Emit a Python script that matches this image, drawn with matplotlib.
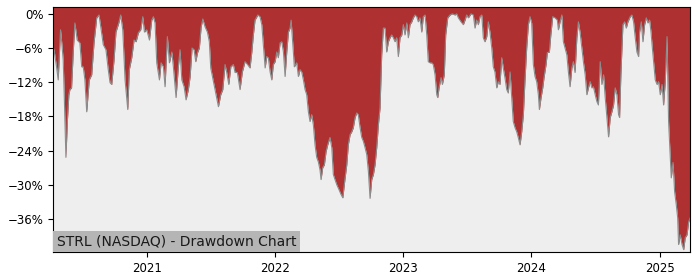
import matplotlib
matplotlib.use("Agg")
import matplotlib.pyplot as plt
import matplotlib.ticker as mticker
import matplotlib.dates as mdates
from matplotlib.transforms import ScaledTranslation
import numpy as np
import pandas as pd

# drawdown of STRL
# time as decimal years, drawdown in percent
t_year = [
    2020.266, 2020.275, 2020.292, 2020.305, 2020.323, 2020.334, 2020.344, 2020.353, 2020.365, 2020.377,
    2020.388, 2020.396, 2020.409, 2020.423, 2020.435, 2020.453, 2020.474, 2020.488, 2020.500, 2020.513,
    2020.527, 2020.547, 2020.566, 2020.584, 2020.605, 2020.623, 2020.638, 2020.656, 2020.677, 2020.695,
    2020.709, 2020.722, 2020.740, 2020.755, 2020.777, 2020.792, 2020.808, 2020.826, 2020.847, 2020.859,
    2020.878, 2020.896, 2020.912, 2020.930, 2020.948, 2020.964, 2020.977, 2020.995, 2021.016, 2021.034,
    2021.047, 2021.060, 2021.073, 2021.094, 2021.107, 2021.125, 2021.138, 2021.156, 2021.172, 2021.191,
    2021.203, 2021.224, 2021.242, 2021.255, 2021.269, 2021.287, 2021.302, 2021.320, 2021.334, 2021.349,
    2021.365, 2021.378, 2021.392, 2021.406, 2021.420, 2021.433, 2021.451, 2021.469, 2021.484, 2021.495,
    2021.516, 2021.537, 2021.555, 2021.573, 2021.589, 2021.607, 2021.620, 2021.636, 2021.652, 2021.672,
    2021.685, 2021.703, 2021.724, 2021.742, 2021.763, 2021.783, 2021.802, 2021.816, 2021.828, 2021.841,
    2021.863, 2021.880, 2021.894, 2021.906, 2021.920, 2021.933, 2021.945, 2021.959, 2021.972, 2021.984,
    2021.998, 2022.011, 2022.023, 2022.037, 2022.050, 2022.063, 2022.076, 2022.089, 2022.102, 2022.115,
    2022.123, 2022.133, 2022.141, 2022.148, 2022.167, 2022.180, 2022.193, 2022.206, 2022.219, 2022.232,
    2022.245, 2022.258, 2022.271, 2022.284, 2022.297, 2022.310, 2022.323, 2022.336, 2022.349, 2022.357,
    2022.370, 2022.383, 2022.396, 2022.409, 2022.427, 2022.441, 2022.453, 2022.466, 2022.480, 2022.498,
    2022.513, 2022.527, 2022.545, 2022.558, 2022.570, 2022.584, 2022.597, 2022.609, 2022.623, 2022.636,
    2022.648, 2022.662, 2022.675, 2022.688, 2022.701, 2022.714, 2022.727, 2022.740, 2022.753, 2022.766,
    2022.779, 2022.792, 2022.805, 2022.818, 2022.831, 2022.844, 2022.857, 2022.870, 2022.883, 2022.896,
    2022.909, 2022.922, 2022.935, 2022.948, 2022.961, 2022.974, 2022.988, 2023.000, 2023.013, 2023.027,
    2023.039, 2023.052, 2023.066, 2023.078, 2023.091, 2023.105, 2023.117, 2023.130, 2023.144, 2023.156,
    2023.170, 2023.183, 2023.195, 2023.209, 2023.222, 2023.234, 2023.248, 2023.261, 2023.269, 2023.279,
    2023.295, 2023.305, 2023.320, 2023.331, 2023.347, 2023.365, 2023.383, 2023.404, 2023.417, 2023.430,
    2023.451, 2023.469, 2023.482, 2023.495, 2023.508, 2023.529, 2023.547, 2023.560, 2023.573, 2023.586,
    2023.599, 2023.613, 2023.625, 2023.638, 2023.652, 2023.664, 2023.677, 2023.691, 2023.703, 2023.716,
    2023.730, 2023.742, 2023.755, 2023.769, 2023.781, 2023.794, 2023.808, 2023.820, 2023.834, 2023.847,
    2023.859, 2023.873, 2023.886, 2023.898, 2023.912, 2023.925, 2023.938, 2023.950, 2023.964, 2023.977,
    2023.990, 2024.003, 2024.016, 2024.029, 2024.042, 2024.055, 2024.063, 2024.076, 2024.089, 2024.099,
    2024.115, 2024.125, 2024.141, 2024.152, 2024.167, 2024.185, 2024.203, 2024.211, 2024.224, 2024.238,
    2024.250, 2024.263, 2024.277, 2024.289, 2024.302, 2024.316, 2024.328, 2024.341, 2024.355, 2024.367,
    2024.380, 2024.394, 2024.406, 2024.420, 2024.433, 2024.445, 2024.459, 2024.472, 2024.484, 2024.498,
    2024.511, 2024.523, 2024.537, 2024.550, 2024.563, 2024.576, 2024.589, 2024.602, 2024.615, 2024.628,
    2024.641, 2024.654, 2024.667, 2024.680, 2024.688, 2024.698, 2024.714, 2024.727, 2024.740, 2024.753,
    2024.771, 2024.784, 2024.797, 2024.810, 2024.823, 2024.836, 2024.844, 2024.857, 2024.870, 2024.883,
    2024.896, 2024.909, 2024.922, 2024.933, 2024.941, 2024.953, 2024.966, 2024.980, 2024.992, 2025.005,
    2025.019, 2025.031, 2025.044, 2025.058, 2025.070, 2025.083, 2025.091, 2025.105, 2025.117, 2025.130,
    2025.141, 2025.148, 2025.161, 2025.175, 2025.188, 2025.200, 2025.214, 2025.227, 2025.239,
]
drawdown = [
    -5.8, -6.7, -9.3, -11.6, -2.8, -5.4, -8.1, -15.1, -25.2, -18.6,
    -14.2, -13.3, -13.0, -6.3, -1.6, -4.6, -5.1, -9.3, -9.3, -11.6,
    -17.2, -11.6, -10.7, -5.1, -0.7, -0.2, -2.5, -5.4, -6.3, -9.8,
    -12.1, -12.4, -8.1, -3.2, -1.6, -0.2, -2.8, -11.6, -16.8, -9.8,
    -7.7, -4.6, -4.9, -3.3, -2.8, -0.5, -3.2, -2.8, -4.6, -1.1,
    -0.5, -1.6, -8.6, -11.6, -8.6, -9.3, -12.8, -4.0, -8.6, -6.7,
    -9.3, -14.7, -9.3, -6.3, -11.6, -12.8, -15.1, -13.3, -11.0, -6.0,
    -6.3, -8.4, -6.8, -6.0, -2.3, -0.9, -2.3, -3.2, -4.9, -9.5,
    -11.9, -14.2, -16.3, -14.2, -13.3, -8.9, -10.3, -12.4, -9.3, -8.9,
    -10.3, -10.3, -13.3, -10.2, -8.4, -8.9, -9.5, -6.7, -3.7, -1.1,
    -0.2, -0.5, -1.9, -5.4, -9.5, -7.5, -7.7, -10.2, -11.6, -8.9,
    -8.4, -6.7, -7.7, -5.1, -4.9, -6.7, -11.0, -6.7, -3.2, -2.5,
    -1.1, -4.2, -6.8, -9.3, -8.6, -11.0, -9.8, -10.2, -11.6, -13.3,
    -14.2, -17.2, -18.9, -17.7, -19.5, -23.0, -25.2, -26.0, -27.4, -29.1,
    -27.0, -26.5, -24.2, -23.0, -21.7, -23.5, -28.2, -29.1, -30.0, -30.9,
    -31.7, -32.3, -28.8, -26.5, -23.0, -21.2, -20.7, -20.0, -18.2, -17.4,
    -17.7, -20.0, -21.7, -22.4, -23.5, -24.7, -27.7, -32.4, -29.1, -28.2,
    -26.5, -23.5, -19.5, -16.5, -7.2, -2.5, -2.5, -6.7, -4.9, -4.2,
    -3.7, -4.2, -4.9, -4.2, -7.5, -4.2, -3.7, -1.9, -3.7, -1.6,
    -4.2, -1.9, -1.4, -0.7, -0.2, -0.5, -1.4, -0.7, -3.2, -0.5,
    -0.2, -3.7, -8.4, -8.6, -8.6, -8.9, -10.7, -14.2, -14.7, -13.0,
    -11.2, -12.4, -10.7, -3.7, -0.7, -0.2, 0.0, -0.2, 0.0, -0.7,
    -1.4, -1.9, -1.1, -0.2, -0.7, 0.0, -0.2, -2.5, -1.1, -1.9,
    -0.5, -0.2, -4.2, -4.9, -4.0, -1.4, -3.2, -6.0, -9.3, -10.2,
    -13.0, -11.9, -12.4, -7.7, -9.5, -11.2, -13.3, -13.9, -10.2, -14.7,
    -18.9, -20.0, -20.7, -21.7, -23.0, -20.7, -17.7, -11.9, -6.0, -1.9,
    -0.5, -1.6, -8.9, -11.0, -11.9, -14.2, -16.8, -14.7, -13.0, -11.2,
    -8.9, -6.8, -6.7, -3.7, -0.5, -0.7, -1.1, -2.8, -1.4, -0.2,
    -4.9, -6.0, -7.2, -10.2, -12.8, -9.5, -8.4, -10.3, -4.2, -1.4,
    -3.2, -6.0, -8.4, -10.7, -14.2, -13.0, -11.9, -13.0, -12.8, -14.2,
    -15.4, -16.0, -8.4, -12.4, -10.7, -14.7, -18.2, -21.6, -18.2, -17.2,
    -16.0, -13.0, -14.2, -17.7, -18.2, -10.7, -1.9, -1.4, -2.5, -1.4,
    -0.5, -0.2, -1.4, -4.2, -6.7, -7.5, -3.2, -1.4, -4.9, -1.9,
    -0.7, -1.6, -1.1, -3.2, -5.4, -8.4, -11.6, -12.4, -11.9, -14.2,
    -12.4, -16.0, -11.9, -4.0, -18.9, -25.2, -28.8, -26.1, -31.2, -33.5,
    -35.8, -40.5, -38.8, -40.5, -41.4, -39.3, -38.8, -36.5, -35.8,
]
chart_label = "STRL (NASDAQ) - Drawdown Chart"
ytick_step = 6


def to_dates(years):
    """decimal years -> timestamps"""
    yrs = np.asarray(years)
    whole = np.floor(yrs).astype(int)
    out = []
    for y, w in zip(yrs, whole):
        start = pd.Timestamp(f"{w}-01-01")
        ndays = (pd.Timestamp(f"{w + 1}-01-01") - start).days
        out.append(start + pd.Timedelta(days=(y - w) * ndays))
    return pd.DatetimeIndex(out)


dates = to_dates(t_year)
dd = np.array(drawdown)
y_top = 1.2
y_bottom = dd.min() * 1.01

fig, ax = plt.subplots(figsize=(7, 2.8), dpi=100)
fig.subplots_adjust(left=0.076, right=0.986, bottom=0.1, top=0.975)

ax.set_facecolor("#eeeeee")
# red area reaches from the drawdown curve up to the top of the axes
ax.fill_between(dates, dd, y_top, color="#af3030", lw=0)
ax.plot(dates, dd, color="#8c8c8c", lw=0.8)

ax.set_xlim(dates[0], dates[-1])
ax.set_ylim(y_bottom, y_top)

ax.yaxis.set_major_locator(mticker.MultipleLocator(ytick_step))
ax.yaxis.set_major_formatter(mticker.PercentFormatter(decimals=0))
ax.xaxis.set_major_locator(mdates.YearLocator())
ax.xaxis.set_major_formatter(mdates.DateFormatter("%Y"))
ax.tick_params(labelsize=8.5)

# label box in the lower left corner
pad = 2.5
trans = ax.transAxes + ScaledTranslation(pad / 72, pad / 72, fig.dpi_scale_trans)
ax.text(0, 0, chart_label, transform=trans, ha="left", va="bottom", fontsize=10,
        color="#1a1a1a", bbox=dict(facecolor="#b5b5b5", edgecolor="none", pad=pad))

plt.savefig("out.png", dpi=100)
